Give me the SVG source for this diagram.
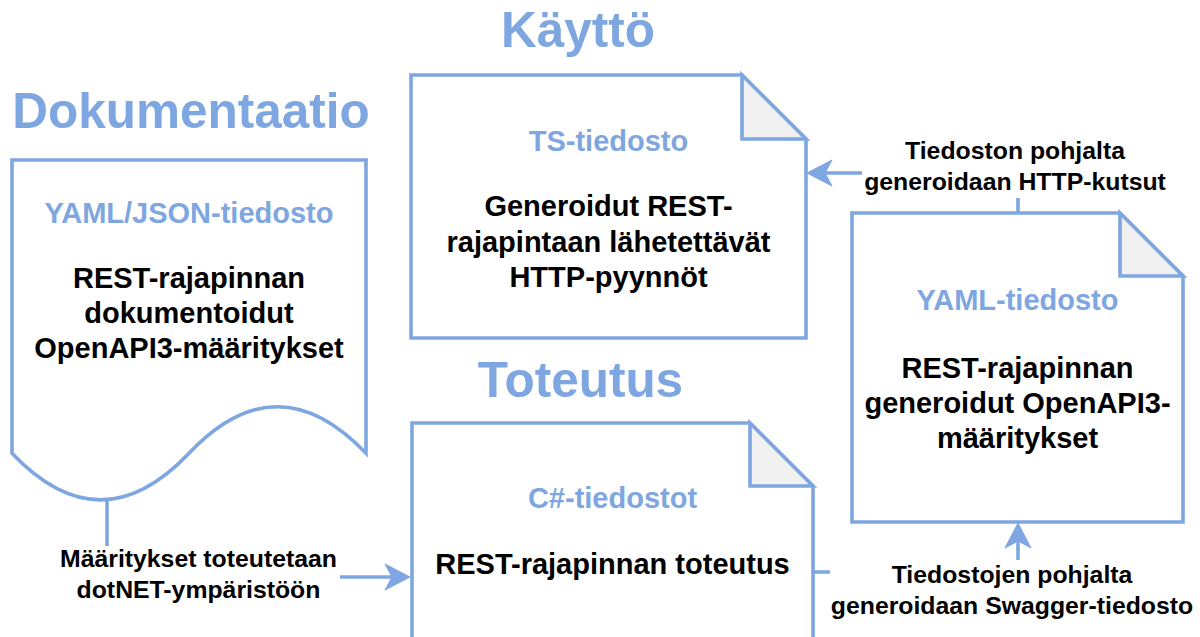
<svg xmlns="http://www.w3.org/2000/svg" width="1200" height="637" viewBox="0 0 1200 637">
<defs>
<style>
.shape{fill:#ffffff;stroke:#7EA6E0;stroke-width:3.6;stroke-linejoin:miter}
.fold{fill:#f0f0f0;stroke:#7EA6E0;stroke-width:3.6}
.edge{fill:none;stroke:#7EA6E0;stroke-width:3.6}
.hdr{font-family:"Liberation Sans",Arial,sans-serif;font-weight:bold;font-size:49.5px;fill:#7EA6E0;text-anchor:middle}
.ttl{font-family:"Liberation Sans",Arial,sans-serif;font-weight:bold;font-size:29px;fill:#7EA6E0;text-anchor:middle}
.body{font-family:"Liberation Sans",Arial,sans-serif;font-weight:bold;font-size:29px;fill:#000000;text-anchor:middle}
.lbl{font-family:"Liberation Sans",Arial,sans-serif;font-weight:bold;font-size:24.8px;fill:#000000;text-anchor:middle}
.bg{fill:#ffffff;stroke:none}
</style>
<marker id="arr" markerUnits="userSpaceOnUse" markerWidth="26" markerHeight="26" refX="13" refY="13" orient="auto" overflow="visible">
<path d="M0,0 L25,13 L0,26 L7,13 Z" fill="#7EA6E0" stroke="#7EA6E0" stroke-width="1"/>
</marker>
</defs>

<g id="headers">
<text class="hdr" x="578" y="47">Käyttö</text>
<text class="hdr" x="191" y="128">Dokumentaatio</text>
<text class="hdr" x="580.5" y="397">Toteutus</text>
</g>

<g id="connectors">
<path class="edge" d="M107,500 V577 H398" marker-end="url(#arr)"/>
<path class="edge" d="M813,572 H1018 V535" marker-end="url(#arr)"/>
<path class="edge" d="M1018,213 V173 H819" marker-end="url(#arr)"/>
</g>

<g id="node-dokumentaatio">
<path class="shape" d="M12,160 H366 V453.25 Q277.5,360.1 189,453.25 Q100.5,546.4 12,453.25 Z"/>
<text class="ttl" x="189" y="223">YAML/JSON-tiedosto</text>
<text class="body" x="189" y="288">REST-rajapinnan</text>
<text class="body" x="189" y="323">dokumentoidut</text>
<text class="body" x="189" y="358">OpenAPI3-määritykset</text>
</g>

<g id="node-ts">
<path class="shape" d="M411,75 H742 L806,139 V338 H411 Z"/>
<path class="fold" d="M742,75 V139 H806 Z"/>
<text class="ttl" x="608.5" y="151">TS-tiedosto</text>
<text class="body" x="608.5" y="216">Generoidut REST-</text>
<text class="body" x="608.5" y="251.5">rajapintaan lähetettävät</text>
<text class="body" x="608.5" y="287">HTTP-pyynnöt</text>
</g>

<g id="node-csharp">
<path class="shape" d="M412,423 H750 L813,486 V680 H412 Z"/>
<path class="fold" d="M750,423 V486 H813 Z"/>
<text class="ttl" x="612.5" y="508">C#-tiedostot</text>
<text class="body" x="612.5" y="574">REST-rajapinnan toteutus</text>
</g>

<g id="node-yaml">
<path class="shape" d="M852,213 H1120 L1183,276 V522 H852 Z"/>
<path class="fold" d="M1120,213 V276 H1183 Z"/>
<text class="ttl" x="1017.5" y="310">YAML-tiedosto</text>
<text class="body" x="1017.5" y="378">REST-rajapinnan</text>
<text class="body" x="1017.5" y="413">generoidut OpenAPI3-</text>
<text class="body" x="1017.5" y="448">määritykset</text>
</g>

<g id="label-toteutus">
<rect class="bg" x="58" y="546" width="282" height="60"/>
<text class="lbl" x="198.5" y="567">Määritykset toteutetaan</text>
<text class="lbl" x="198.5" y="598">dotNET-ympäristöön</text>
</g>

<g id="label-swagger">
<rect class="bg" x="830" y="560" width="366" height="62"/>
<text class="lbl" x="1012" y="583">Tiedostojen pohjalta</text>
<text class="lbl" x="1012" y="614">generoidaan Swagger-tiedosto</text>
</g>

<g id="label-http">
<rect class="bg" x="862" y="136" width="308" height="62"/>
<text class="lbl" x="1015" y="159">Tiedoston pohjalta</text>
<text class="lbl" x="1015" y="190">generoidaan HTTP-kutsut</text>
</g>
</svg>
